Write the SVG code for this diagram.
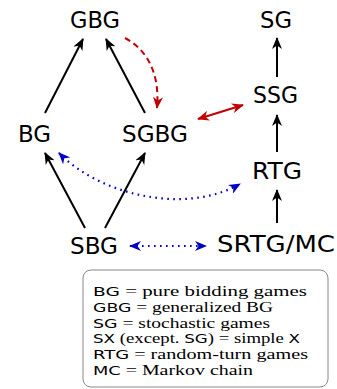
<svg xmlns="http://www.w3.org/2000/svg" width="337" height="389" viewBox="0 0 337 389">
<style>
.lbl{font-family:"DejaVu Sans",sans-serif;font-size:23px;fill:#000}
.e{fill:none;stroke:#000;stroke-width:2}
.red{fill:none;stroke:#c00000;stroke-width:2}
.blue{fill:none;stroke:#0000c0;stroke-width:2.2;stroke-dasharray:1.6 4.4}
.lg{font-family:"Liberation Serif",serif;font-size:14px;fill:#000}
.sf{font-family:"DejaVu Sans",sans-serif;font-size:12.5px}
</style>
<defs>
<marker id="ak" viewBox="0 0 12 10" refX="11" refY="5" markerUnits="userSpaceOnUse" markerWidth="12" markerHeight="10" orient="auto-start-reverse"><path d="M0,0 L12,5 L0,10 L3.5,5 z" fill="#000"/></marker>
<marker id="ar" viewBox="0 0 12 10" refX="11" refY="5" markerUnits="userSpaceOnUse" markerWidth="12" markerHeight="10" orient="auto-start-reverse"><path d="M0,0 L12,5 L0,10 L3.5,5 z" fill="#c00000"/></marker>
<marker id="ab" viewBox="0 0 12 10" refX="11" refY="5" markerUnits="userSpaceOnUse" markerWidth="12" markerHeight="10" orient="auto-start-reverse"><path d="M0,0 L12,5 L0,10 L3.5,5 z" fill="#0000c0"/></marker>
</defs>
<g id="connectors">
<path class="e" d="M45,113 L83,39" marker-end="url(#ak)"/>
<path class="e" d="M145,113 L106,39" marker-end="url(#ak)"/>
<path class="e" d="M85,228 L45,153" marker-end="url(#ak)"/>
<path class="e" d="M105,228 L145,153" marker-end="url(#ak)"/>
<path class="e" d="M277,77 L277,38" marker-end="url(#ak)"/>
<path class="e" d="M277,152 L277,115" marker-end="url(#ak)"/>
<path class="e" d="M277,223 L277,190" marker-end="url(#ak)"/>
<path class="red" stroke-dasharray="6 4" d="M125,38 C148,50 160,75 157,108" marker-end="url(#ar)"/>
<path class="red" d="M198,119 L243,105" marker-start="url(#ar)" marker-end="url(#ar)"/>
<path class="blue" d="M59,153 C100,195 185,215 240,184" marker-start="url(#ab)" marker-end="url(#ab)"/>
<path class="blue" d="M130,246 L206,246" marker-start="url(#ab)" marker-end="url(#ab)"/>
</g>
<g id="GBG"><text class="lbl" x="70" y="28" textLength="50" lengthAdjust="spacingAndGlyphs">GBG</text></g>
<g id="SG"><text class="lbl" x="260" y="28" textLength="32" lengthAdjust="spacingAndGlyphs">SG</text></g>
<g id="SSG"><text class="lbl" x="253" y="103" textLength="45" lengthAdjust="spacingAndGlyphs">SSG</text></g>
<g id="BG"><text class="lbl" x="18" y="142" textLength="33" lengthAdjust="spacingAndGlyphs">BG</text></g>
<g id="SGBG"><text class="lbl" x="122" y="142" textLength="66" lengthAdjust="spacingAndGlyphs">SGBG</text></g>
<g id="RTG"><text class="lbl" x="252" y="179" textLength="50" lengthAdjust="spacingAndGlyphs">RTG</text></g>
<g id="SBG"><text class="lbl" x="70" y="254" textLength="48" lengthAdjust="spacingAndGlyphs">SBG</text></g>
<g id="SRTG_MC"><text class="lbl" x="217" y="252" textLength="118" lengthAdjust="spacingAndGlyphs">SRTG/MC</text></g>
<g id="legend">
<rect x="83" y="270" width="245" height="117" rx="8" ry="8" fill="#fff" stroke="#888" stroke-width="1"/>
<text class="lg" x="93" y="296" textLength="214" lengthAdjust="spacingAndGlyphs"><tspan class="sf">BG</tspan> = pure bidding games</text>
<text class="lg" x="93" y="312" textLength="180" lengthAdjust="spacingAndGlyphs"><tspan class="sf">GBG</tspan> = generalized BG</text>
<text class="lg" x="93" y="328" textLength="177" lengthAdjust="spacingAndGlyphs"><tspan class="sf">SG</tspan> = stochastic games</text>
<text class="lg" x="93" y="343" textLength="207" lengthAdjust="spacingAndGlyphs"><tspan class="sf">SX</tspan> (except. <tspan class="sf">SG</tspan>) = simple <tspan class="sf">X</tspan></text>
<text class="lg" x="93" y="359" textLength="215" lengthAdjust="spacingAndGlyphs"><tspan class="sf">RTG</tspan> = random-turn games</text>
<text class="lg" x="93" y="375" textLength="160" lengthAdjust="spacingAndGlyphs"><tspan class="sf">MC</tspan> = Markov chain</text>
</g>
</svg>
